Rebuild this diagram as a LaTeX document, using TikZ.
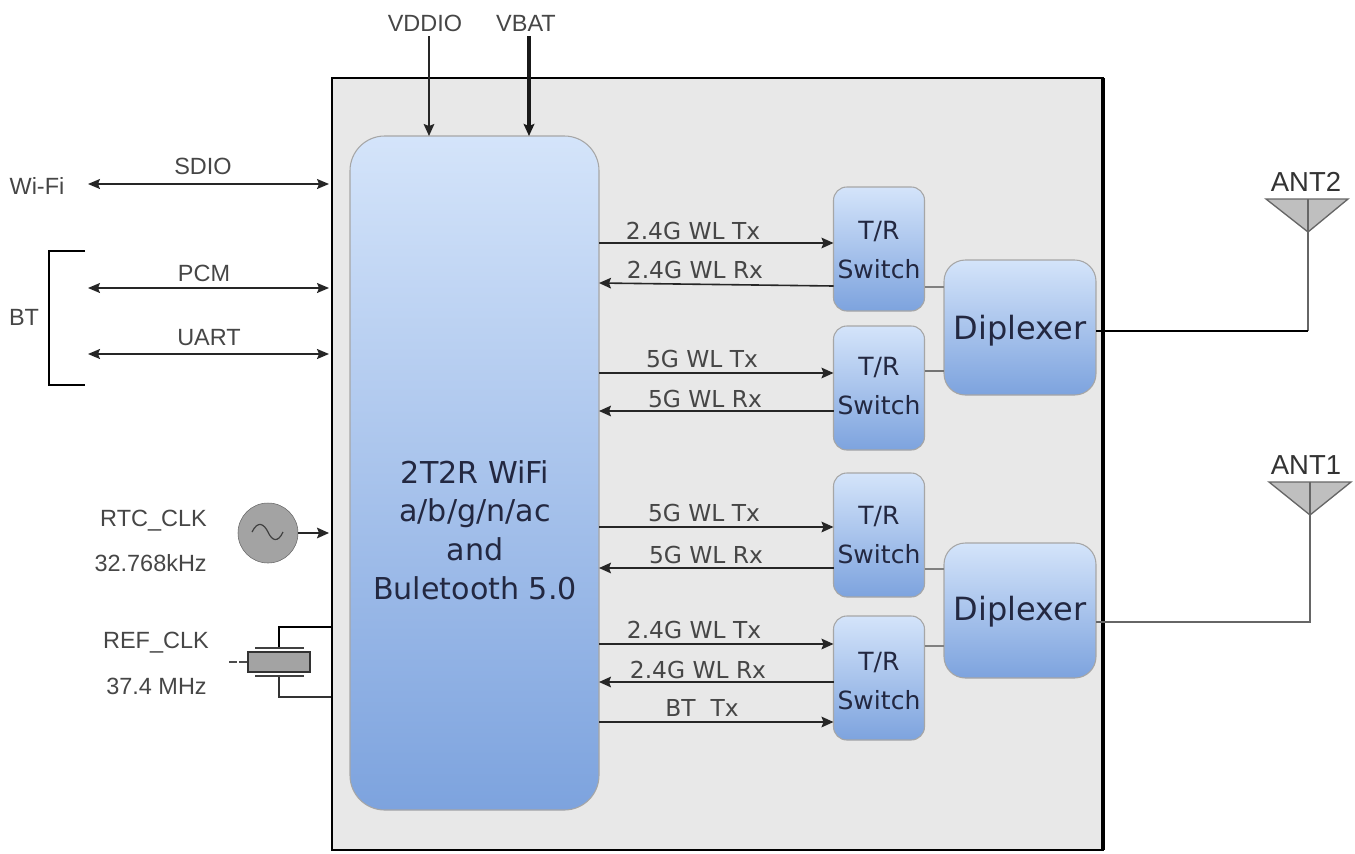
\documentclass[tikz,border=0pt]{standalone}
\usepackage{fontspec}
\setmainfont{Liberation Sans}
\newfontfamily\djv{DejaVu Sans}
\usetikzlibrary{arrows.meta}
\definecolor{txtg}{RGB}{70,70,70}
\definecolor{blktxt}{RGB}{35,40,65}
\definecolor{bluetop}{RGB}{212,228,250}
\definecolor{bluebot}{RGB}{125,163,222}
\definecolor{panel}{RGB}{232,232,232}
\tikzset{
 blk/.style={draw=black!35,line width=.8pt,outer sep=0pt,rounded corners=#1,top color=bluetop,bottom color=bluebot,anchor=north west,inner sep=0pt},
 blk/.default=16pt,
 blkt/.style={text=blktxt,align=center,inner sep=0pt},
 lab/.style={font=\fontsize{17.6}{20}\selectfont,text=txtg,inner sep=0pt},
 sig/.style={font=\djv\fontsize{17.5}{20}\selectfont,text=txtg,inner sep=0pt},
 one/.style={line width=1.2pt,black!85,-{Stealth[length=9pt,width=8pt,inset=1.5pt]}},
 two/.style={line width=1pt,black!85,{Stealth[length=9pt,width=7.5pt,inset=1.5pt]}-{Stealth[length=9pt,width=7.5pt,inset=1.5pt]}},
 wire/.style={line width=1pt,black!70},
}
\begin{document}
\begin{tikzpicture}[x=0.75pt,y=-0.75pt]
\useasboundingbox (0,0) rectangle (1355,853);
% chip panel
\node[draw=black,line width=1.6pt,outer sep=0pt,fill=panel,minimum width=771pt*.75,minimum height=772pt*.75,anchor=north west,inner sep=0pt] (chip) at (332,78) {};
\draw[black,line width=2.6pt] (chip.north east) -- (chip.south east);
% main block
\node[blk=26pt,minimum width=249pt*.75,minimum height=674pt*.75] (soc) at (350,136) {};
\node[blkt,font=\djv\fontsize{22.6}{29}\selectfont] (soct) at (475,530) {2T2R WiFi\\a/b/g/n/ac\\and\\Buletooth 5.0};
% switches
\tikzset{sw/.style={blk=10pt,minimum width=91pt*.75,minimum height=124pt*.75},
 swt/.style={blkt,font=\djv\fontsize{18.8}{29.5}\selectfont}}
\node[sw] (s1) at (833.5,187) {};
\node[sw] (s2) at (833.5,326) {};
\node[sw] (s3) at (833.5,473) {};
\node[sw] (s4) at (833.5,616) {};
\node[swt] (s1t) at (879,250) {T/R\\Switch};
\node[swt] (s2t) at (879,386) {T/R\\Switch};
\node[swt] (s3t) at (879,535) {T/R\\Switch};
\node[swt] (s4t) at (879,681) {T/R\\Switch};
% diplexers
\tikzset{dp/.style={blk=16pt,minimum width=152pt*.75,minimum height=135pt*.75},
 dpt/.style={blkt,font=\djv\fontsize{24}{26}\selectfont}}
\node[dp] (d2) at (944,260) {};
\node[dp] (d1) at (944,543) {};
\node[dpt] (d2t) at (1020,331) {Diplexer};
\node[dpt] (d1t) at (1020,612) {Diplexer};
% power
\node[lab] (vddio) at (425,23) {VDDIO};
\node[lab] (vbat) at (526,23) {VBAT};
\coordinate (vddiot) at (429,36);
\coordinate (vbatt) at (529,36);
\draw[one] (vddiot) -- (vddiot |- soc.north);
\draw[line width=2.4pt,black!90,-{Stealth[length=9pt,width=8pt,inset=1.5pt]}] (vbatt) -- (vbatt |- soc.north);
% left interfaces
\node[lab] (wifi) at (37,186) {Wi-Fi};
\coordinate (wifie) at (88,184);\coordinate (sdiol) at (329,184);
\draw[two] (wifie) -- (sdiol);
\node[lab] (sdio) at (203,166) {SDIO};
\node[lab] (bt) at (24,317) {BT};
\draw[black,line width=1.3pt] (85,251) -- (49,251) -- (49,385) -- (85,385);
\coordinate (pcma) at (88,288);\coordinate (pcmb) at (329,288);
\draw[two] (pcma) -- (pcmb);
\node[lab] (pcm) at (204,273) {PCM};
\coordinate (uarta) at (88,354);\coordinate (uartb) at (329,354);
\draw[two,line width=1.3pt] (uarta) -- (uartb);
\node[lab] (uart) at (209,338) {UART};
% RTC
\node[lab,anchor=east] (rtc) at (207,521) {RTC\_CLK};
\node[lab,anchor=east] (f1) at (207,563) {32.768kHz};
\node[circle,draw=black!60,fill=black!36,minimum size=60pt*.75,inner sep=0pt] (osc) at (268,533) {};
\draw[black!75,line width=.9pt] (252,532) .. controls (258,520) and (264,524) .. (268,532) .. controls (272,541) and (278,543) .. (283,532);
\coordinate (rtcin) at (329,533);
\draw[one] (osc) -- (rtcin);
% REF
\node[lab,anchor=east] (ref) at (209,643) {REF\_CLK};
\node[lab,anchor=east] (f2) at (207,686) {37.4 MHz};
\node[draw=black!80,fill=black!36,line width=1pt,minimum width=62pt*.75,minimum height=20pt*.75,inner sep=0pt] (xt) at (279,662) {};
\coordinate (xtop) at (279,648);\coordinate (xbot) at (279,676);
\coordinate (xa) at (331,627);\coordinate (xb) at (331,697);
\coordinate (xd) at (229,662);
\draw[black,line width=1.6pt] (xa) -- (xtop |- xa) -- (xtop);
\draw[black!80,line width=1pt] (xbot) -- (xbot |- xb) -- (xb);
\draw[black!75,line width=1pt] (255,648) -- (304,648);
\draw[black!75,line width=1pt] (255,676) -- (304,676);
\draw[black!70,dash pattern=on 6pt off 1.5pt,line width=.8pt] (xd) -- (xt.west);
% Tx Rx
\draw[one] (soc.east |- 0,243) -- (s1.west |- 0,243);
\draw[one] (s1.west |- 0,286) -- (soc.east |- 0,283);
\draw[one] (soc.east |- 0,373) -- (s2.west |- 0,373);
\draw[one] (s2.west |- 0,411) -- (soc.east |- 0,411);
\draw[one] (soc.east |- 0,527) -- (s3.west |- 0,527);
\draw[one] (s3.west |- 0,568) -- (soc.east |- 0,568);
\draw[one] (soc.east |- 0,644) -- (s4.west |- 0,644);
\draw[one] (s4.west |- 0,682) -- (soc.east |- 0,682);
\draw[one] (soc.east |- 0,722) -- (s4.west |- 0,722);
\node[sig] (t1) at (693,231) {2.4G WL Tx};
\node[sig] (t2) at (695,270) {2.4G WL Rx};
\node[sig] (t3) at (702,359) {5G WL Tx};
\node[sig] (t4) at (705,399) {5G WL Rx};
\node[sig] (t5) at (704,513) {5G WL Tx};
\node[sig] (t6) at (706,555) {5G WL Rx};
\node[sig] (t7) at (694,630) {2.4G WL Tx};
\node[sig] (t8) at (698,670) {2.4G WL Rx};
\node[sig] (t9) at (702,708) {BT\ \ Tx};
% switch to diplexer
\draw[wire,black!50] (s1.east |- 0,287) -- (d2.west |- 0,287);
\draw[wire,black!55,line width=1.3pt] (s2.east |- 0,371) -- (d2.west |- 0,371);
\draw[wire,black!50] (s3.east |- 0,569) -- (d1.west |- 0,569);
\draw[wire,black!50] (s4.east |- 0,646) -- (d1.west |- 0,646);
% antennas
\tikzset{antl/.style={lab,font=\fontsize{20.6}{22}\selectfont,text=black!80}}
\node[antl] (a2) at (1306,182) {ANT2};
\node[antl] (a1) at (1306,465) {ANT1};
\coordinate (a2t) at (1308,199);\coordinate (a2b) at (1308,232);
\coordinate (a1t) at (1310,482);\coordinate (a1b) at (1310,515);
\fill[black!25] (1266,199) -- (1348,199) -- (a2b) -- cycle;
\draw[black!60,line width=1pt] (1266,199) -- (1348,199) -- (a2b) -- cycle;
\fill[black!25] (1269,482) -- (1351,482) -- (a1b) -- cycle;
\draw[black!60,line width=1pt] (1269,482) -- (1351,482) -- (a1b) -- cycle;
\draw[black!60,line width=1.2pt] (a2t) -- (a2t |- 0,331);
\draw[black,line width=1.8pt] (d2.east |- 0,331) -- (a2t |- 0,331);
\draw[black!60,line width=1.2pt] (a1t) -- (a1t |- 0,622) -- (d1.east |- 0,622);
\end{tikzpicture}
\end{document}
